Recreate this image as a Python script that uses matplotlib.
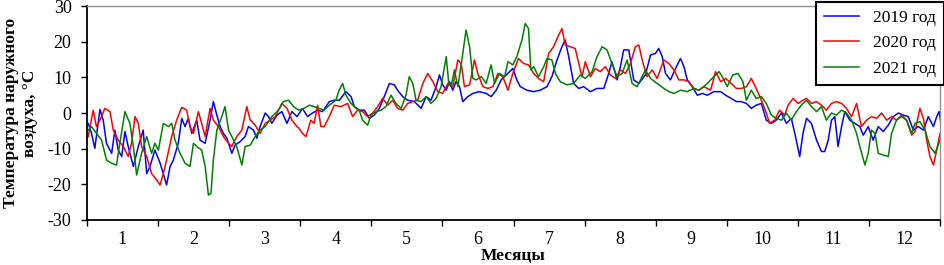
import matplotlib
matplotlib.use("Agg")
import matplotlib.pyplot as plt
import numpy as np

plt.rcParams['font.family'] = ['Liberation Serif', 'DejaVu Serif']
plt.rcParams['axes.unicode_minus'] = False

# данные: день года и температура, °C
days_2019 = [0.6, 2, 3.4, 5.6, 7, 8.4, 10.6, 12, 13.4, 14.9, 16.3, 17.7, 19.9, 22, 24.1, 25.6, 27, 29.1,
             31.3, 32.7, 34.1, 35.6, 37, 39.1, 40.6, 42, 43.4, 44.9, 47, 48.4, 50.6, 52.7, 54.1, 55.6,
             57, 58.4, 59.9, 62, 63.4, 65.6, 67.7, 69.1, 71.3, 72.7, 74.1, 76.3, 77.7, 79.1, 81.3, 83.4,
             85.6, 87.7, 89.9, 92.2, 94.4, 96.5, 98.7, 100.8, 103.7, 105.8, 108, 110.8, 113, 114.4,
             116.5, 118.7, 120.8, 122.9, 125.1, 127.2, 129.4, 131.5, 132.9, 135.1, 137.2, 140.1, 143,
             145.1, 147.2, 149.4, 150.8, 152.2, 153.7, 155.1, 156.5, 157.9, 159.4, 160.8, 162.9, 165.1,
             167.9, 170.8, 172.9, 175.1, 177.2, 179.4, 182.2, 183.9, 185.4, 188.2, 191.1, 193.9, 196.8,
             198.9, 201.1, 203.2, 204.6, 206.1, 208.2, 210.4, 212.5, 215.4, 218.2, 221.1, 223.2, 224.6,
             226.8, 228.2, 229.6, 231.8, 233.9, 236.1, 238.9, 241.1, 243.2, 244.6, 246.1, 247.5, 249.6,
             251.8, 253.9, 255.4, 256.8, 258.9, 261.1, 263.2, 265.4, 268.2, 271.1, 273.2, 275.6, 277.8,
             279.9, 282.1, 284.2, 286.3, 288.5, 290.6, 292.8, 294.9, 297.1, 299.2, 301.3, 302.8, 304.9,
             306.3, 307.8, 309.9, 312.1, 314.2, 315.6, 317.1, 318.5, 319.9, 321.3, 322.8, 324.2, 326.3,
             328.5, 330.6, 332.1, 334.2, 336.3, 338.5, 340.6, 342.8, 344.9, 347.1, 349.2, 351.3, 353.5,
             355.6, 357.8, 359.9, 362.1, 363.5, 364.5, 365.3]
temp_2019 = [-2.9, -5.7, -9.9, 1, -2, -8.5, -11.3, -4.8, -10.4, -12.2, -5.2, -9.4, -15, -9.4, -4.8, -17, -15, -10.4,
             -14, -17, -20.2, -15, -13.2, -8.5, -1.5, -3.8, -1.5, -5.7, -2, -7.6, -8.5, -2, 3.2, -0.6,
             -3.8, -5.7, -7.1, -11.3, -9, -8, -6.6, -3.8, -4.8, -7.1, -3.8, 0, -1, -2.9, -0.6, 0.4,
             -2.9, 0.4, -1, 1.3, -1, 0, 0.8, 0.4, 3.2, 3.6, 3.6, 6, 4.6, 1.8,
             0.8, 0.8, -1.5, -0.6, 1.3, 4.6, 8.3, 7.9, 6.4, 4.6, 3.6, 3.2, 1.3,
             4.6, 3.6, 7.4, 10.7, 7.9, 6.4, 8.8, 6.4, 8.8, 7.4, 3.2, 4.6, 5.5,
             6, 5.5, 4.6, 6.4, 9.3, 10.7, 12.5, 9.3, 7.4, 6.4, 6, 6.4, 7.4,
             10.2, 14.9, 18.6, 20.5, 15.8, 8.3, 6.9, 7.4, 6, 6.9, 6.9, 11.1, 14.4,
             9.3, 13, 17.7, 17.7, 9.3, 8.3, 10.7, 16.3, 16.7, 18.1, 15.8, 11.1, 9.3,
             12.5, 15.3, 13, 9.3, 7.4, 5, 5.5, 5, 6, 6, 5, 4.1, 3.2,
             3.2, 2.7, 1.3, 2.2, 2.7, -2, -2.9, -2, 0, -2.9, -1.5, -5.7, -12.2,
             -5.7, -1.5, -2.9, -7.6, -10.8, -10.8, -7.6, -2, -1, -9.4, -3.8, 0.4, -2,
             -2.9, -3.8, -6.2, -3.8, -7.6, -3.8, -5.2, -3.4, -1, 0, -0.6, -1, -4.8,
             -3.8, -4.8, -1, -3.8, -1, 0.4, -2.9]

days_2020 = [0.6, 2.7, 4.1, 5.6, 7.7, 9.9, 11.3, 13.4, 15.6, 17.7, 19.1, 20.6, 22, 23.4, 25.6, 27.7, 29.9,
             31.3, 32.7, 34.1, 36.3, 38.4, 40.6, 42.7, 44.1, 45.6, 47.7, 49.1, 50.6, 52.7, 54.1, 56.3,
             58.4, 60.6, 62, 64.1, 66.3, 68.4, 69.9, 72, 74.1, 76.3, 78.4, 80.6, 83.4, 85.6, 87.7, 89.9,
             90.8, 92.2, 93.7, 95.8, 97.2, 98.7, 100.1, 101.5, 103.7, 105.8, 108.7, 111.5, 113.7, 115.8,
             117.9, 120.1, 122.2, 124.4, 126.5, 128.7, 130.8, 132.9, 135.1, 137.2, 139.4, 141.5, 143.7,
             145.8, 148, 150.1, 152.2, 154.4, 156.5, 158.7, 160.1, 161.5, 163.7, 165.8, 167.2, 169.4,
             171.5, 173.7, 175.8, 177.9, 180.1, 182.2, 184.6, 186.8, 188.9, 191.1, 193.2, 195.4, 197.5,
             199.6, 201.8, 203.2, 204.6, 206.8, 208.9, 210.4, 211.8, 213.2, 215.4, 217.5, 219.6, 221.8,
             223.9, 226.1, 228.2, 230.4, 232.5, 234.6, 236.1, 237.5, 239.6, 241.8, 243.9, 246.8, 248.9,
             251.1, 253.2, 255.4, 257.5, 259.6, 261.8, 263.9, 266.8, 268.9, 271.1, 273.2, 275.6, 277.8,
             279.9, 282.1, 284.2, 286.3, 288.5, 290.6, 292, 294.2, 296.3, 298.5, 299.9, 302.1, 304.2,
             306.3, 307.8, 309.9, 312.1, 314.2, 316.3, 318.5, 320.6, 322.8, 324.9, 327.1, 329.2, 331.3,
             333.5, 335.6, 337.8, 339.9, 342.1, 344.2, 346.3, 348.5, 350.6, 352.8, 354.2, 356.3, 357.8,
             359.2, 360.6, 362.1, 363.5, 364.9, 365.5]
temp_2020 = [-6.6, 0.8, -3.8, -2, 1.3, 0.4, -4.8, -7.6, -9.4, -12.2, -8.5, -1, -2.9, -9.4, -12.2, -17, -18.8,
             -20.2, -17, -13.2, -6.6, -2, 1.6, 0.8, -3.8, -5.7, 0.4, -2.9, -6.6, 1.3, -2, -3.8,
             -6.6, -8.5, -9.4, -6.6, -4.8, 1.8, -2, -3.4, -5.7, -2.9, -2, -1, 2.7, 1.3, -2, -3.8,
             -4.3, -5.7, -6.6, -2, -2.9, 2.2, -3.8, -3.8, -1, 2.2, 1.8, 2.7, -1, 0.8,
             0.4, -1, 0, 1.8, 4.1, 2.2, 3.6, 1.3, 0.8, 2.7, 3.2, 3.6, 8.3,
             11.1, 8.8, 6, 5.5, 8.3, 7.4, 14.9, 13.9, 7.4, 7.9, 14.9, 11.1, 7.4,
             6.9, 7.4, 11.1, 10.2, 6.4, 11.1, 15.3, 13.9, 13.5, 11.1, 9.7, 8.8, 16.7,
             18.6, 21.9, 23.7, 19.1, 18.6, 18.1, 13.9, 10.2, 14.4, 10.2, 12.5, 11.6, 13,
             10.7, 9.7, 12.1, 11.1, 13.9, 18.6, 19.1, 14.9, 10.2, 12.1, 9.7, 14.9, 13.9,
             12.1, 9.3, 9.3, 8.8, 6.9, 6.4, 7.4, 6.4, 11.6, 8.8, 9.7, 8.3, 6.9,
             6.9, 7.4, 9.7, 6.9, 3.6, 0, -2.9, -2, 0.8, -0.6, 2.2, 4.1, 2.7,
             3.6, 4.1, 2.7, 3.2, 2.2, 0.8, 2.7, 3.2, 2.7, 1.3, -1, 2.7, -3.8,
             -2, -1, -1.5, 0, -2, -1, -2, -0.6, -2, -6.2, -5.2, 1.3, -1.5,
             -7.6, -12.2, -14.6, -10.4, -5.7, -6.2]

days_2021 = [0.6, 2, 4.1, 6.3, 8.4, 10.6, 12.7, 14.1, 16.3, 18.4, 19.9, 21.3, 23.4, 25.6, 27.7, 29.1, 30.6,
             32.7, 34.9, 36.3, 37.7, 39.9, 42, 44.1, 45.6, 47, 49.1, 50.6, 52, 53.1, 54.1, 55.6, 57.7,
             59.1, 60.6, 62, 64.1, 66.3, 67.7, 69.9, 72, 74.1, 76.3, 79.1, 82, 84.1, 86.3, 88.4, 90.6,
             92.9, 95.1, 97.2, 99.4, 101.5, 103.7, 106.5, 107.9, 109.4, 110.8, 113, 115.1, 116.5, 117.9,
             120.1, 121.5, 123.7, 125.8, 127.9, 130.1, 132.2, 134.4, 136.5, 137.9, 139.4, 140.8, 142.9,
             145.1, 147.2, 149.4, 151.5, 153.7, 154.8, 155.8, 157.2, 158.7, 160.8, 162.2, 163.7, 165.1,
             166.5, 168.7, 170.8, 172.9, 174.4, 176.5, 178.7, 180.1, 182.2, 183.9, 186.1, 187.5, 188.9,
             189.9, 191.1, 193.2, 195.4, 196.8, 198.9, 200.4, 202.5, 205.4, 208.2, 211.1, 213.2, 216.1,
             218.2, 220.4, 222.5, 224.6, 226.8, 228.9, 231.1, 233.2, 235.4, 237.5, 238.9, 241.1, 243.9,
             246.8, 248.9, 251.1, 253.9, 256.8, 259.6, 261.8, 263.9, 266.1, 268.2, 270.4, 271.8, 273.9,
             276.3, 278.5, 280.6, 282.1, 284.2, 286.3, 288.5, 290.6, 292.8, 294.9, 297.1, 299.2, 301.3,
             303.5, 305.6, 307.8, 309.9, 312.1, 314.2, 316.3, 318.5, 320.6, 322.8, 324.9, 327.1, 329.2,
             330.6, 332.8, 334.2, 335.6, 337.1, 338.5, 340.6, 342.8, 344.2, 346.3, 348.5, 350.6, 352.8,
             354.2, 356.3, 358.5, 360.6, 362.8, 364.9]
temp_2021 = [-4.8, -3.8, -5.7, -7.6, -13.2, -14.1, -14.6, -8.5, 0.4, -2.9, -9.4, -17.4, -11.3, -6.6, -11.3, -8.5, -10.4,
             -2.9, -3.8, -2.9, -7.6, -11.3, -14.1, -15, -8.5, -9.4, -10.4, -15, -23, -22.5, -13.2, -4.8, -1,
             1.8, -4.8, -6.6, -9.4, -14.6, -9.4, -9, -6.6, -4.8, -3.8, -1, 0.8, 3.2, 3.6, 1.8, 0.8,
             1.3, 2.2, 1.8, 1.3, 0.8, 2.2, 3.6, 6.4, 8.3, 5, 2.7, 1.3, 0.8, -2,
             -3.4, -0.6, 0.4, 0.8, 1.8, 5, 2.7, 1.3, 5, 10.2, 8.3, 3.6, 3.2,
             4.6, 2.7, 4.1, 7.4, 15.8, 8.3, 7.4, 12.1, 7.4, 16.7, 23.3, 18.6, 9.7,
             9.3, 10.2, 8.3, 13.5, 8.3, 11.1, 10.2, 14.4, 13.5, 15.8, 20.5, 25.1, 23.7,
             12.1, 13, 10.2, 13, 15.3, 14.9, 11.1, 8.8, 7.9, 8.3, 10.7, 9.7, 11.6,
             15.8, 18.6, 17.7, 13.9, 10.2, 11.1, 14.9, 8.3, 7.4, 10.2, 12.1, 9.7, 8.3,
             6.9, 6, 5.5, 6.4, 6, 6.9, 6.4, 7.4, 8.8, 10.2, 11.6, 10.2, 7.4,
             10.7, 11.1, 8.8, 3.6, 6.4, 4.1, 4.6, 2.7, -0.6, -1.5, -2, 0, -2,
             0.4, 2.2, 3.6, 1.8, 0.4, 1.8, -2, 0, -0.6, 0.8, 0, -2, -5.7,
             -9.4, -14.6, -11.3, -4.8, -5.7, -11.3, -11.8, -12.2, -5.7, -2, -1, -2, -5.7,
             -2.9, -2.4, -4.8, -9.4, -11.3, -7.6]

months = [str(m) for m in range(1, 13)]

fig = plt.figure(figsize=(9.44, 2.65), dpi=100)
ax = fig.add_axes([0.092, 0.17, 0.904, 0.807])

ax.plot(days_2019, temp_2019, color='#0000ff', lw=1.1, label='2019 год')
ax.plot(days_2020, temp_2020, color='#ff0000', lw=1.1, label='2020 год')
ax.plot(days_2021, temp_2021, color='#008000', lw=1.1, label='2021 год')

ax.set_xlim(0, 365)
ax.set_ylim(-30, 30)
ax.set_yticks(np.arange(-30, 31, 10))

# деления на границах месяцев, подписи посередине
month_len = 365 / 12
ax.set_xticks([i * month_len for i in range(13)])
ax.set_xticklabels([])
ax.set_xticks([(i + 0.5) * month_len for i in range(12)], minor=True)
ax.set_xticklabels(months, minor=True)
ax.tick_params(axis='x', which='minor', length=0, labelsize=13, pad=8)
ax.tick_params(axis='x', which='major', direction='out', length=4, width=1)
ax.tick_params(axis='y', direction='out', length=4, width=1, labelsize=13, pad=7)

for s in ['left', 'bottom']:
    ax.spines[s].set_color('black')
    ax.spines[s].set_linewidth(1.3)
for s in ['top', 'right']:
    ax.spines[s].set_color('#909090')
    ax.spines[s].set_linewidth(1.0)

ax.set_ylabel('Температура наружного\nвоздуха, °С', fontsize=12.5, fontweight='bold', linespacing=1.25)
ax.yaxis.set_label_coords(-0.057, 0.5)
ax.set_xlabel('Месяцы', fontsize=12.5, fontweight='bold', labelpad=0)

leg = ax.legend(loc='upper right', bbox_to_anchor=(1.004, 1.02), borderaxespad=0,
                fontsize=12.5, fancybox=False, framealpha=1, edgecolor='black',
                handlelength=2.0, labelspacing=0.55, borderpad=0.45)
leg.get_frame().set_linewidth(1.5)

fig.savefig('out.png', dpi=100)
